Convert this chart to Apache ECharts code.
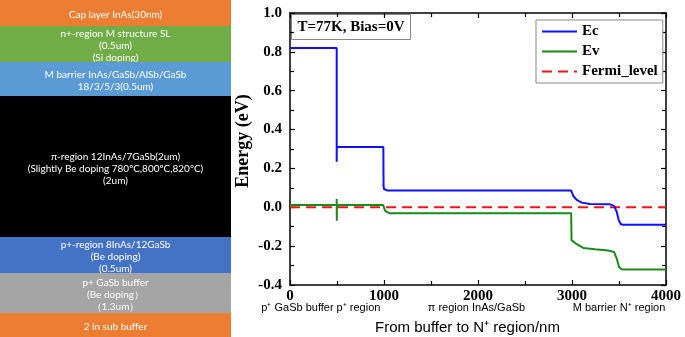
<!DOCTYPE html>
<html>
<head>
<meta charset="utf-8">
<script src="https://cdn.jsdelivr.net/npm/echarts@6/dist/echarts.min.js"></script>
<style>
  html, body { margin: 0; padding: 0; background: #fff; }
  #chart { width: 685px; height: 337px; }
</style>
</head>
<body>
<div id="chart"></div>
<script>
// Device layer stack, from the substrate (bottom) up to the cap (top).
const layerNames = ['2 in sub buffer', 'p+ GaSb buffer', 'p+-region', 'π-region', 'M barrier', 'n+-region', 'Cap layer'];
const layerHeights = [24, 40, 36, 141, 34, 36, 26];
const layerLabels = [
  '2 in sub buffer',
  'p+ GaSb buffer\n(Be doping）\n（1.3um）',
  'p+-region 8InAs/12GaSb\n(Be doping)\n(0.5um)',
  'π-region 12InAs/7GaSb(2um)\n(Slightly Be doping 780ºC,800ºC,820ºC)\n(2um)',
  'M barrier InAs/GaSb/AlSb/GaSb\n18/3/5/3(0.5um)',
  'n+-region M structure SL\n(0.5um)\n(Si doping)',
  'Cap layer InAs(30nm)'
];
const layerColors = ['#ED7D31', '#A5A5A5', '#4472C4', '#000000', '#5B9BD5', '#70AD47', '#ED7D31'];

// Band edges along the growth direction: [position (nm), energy (eV)].
const ecPoints = [
  [0, 0.82], [497, 0.82], [497, 0.235], [498, 0.31], [993, 0.31], [995, 0.11], [1000, 0.094],
  [1015, 0.087], [1040, 0.086], [2991, 0.086], [3000, 0.075], [3014, 0.058], [3050, 0.038],
  [3103, 0.024], [3191, 0.017], [3404, 0.015], [3447, 0.007], [3476, -0.023], [3497, -0.066],
  [3518, -0.086], [3540, -0.09], [4000, -0.09]
];
const evPoints = [
  [0, 0.012], [497, 0.012], [497, 0.043], [498, -0.069], [499, 0.012], [990, 0.012], [1000, 0.006],
  [1012, -0.018], [1030, -0.028], [1060, -0.031], [2991, -0.031], [2995, -0.169], [3050, -0.19],
  [3120, -0.209], [3245, -0.216], [3386, -0.222], [3447, -0.23], [3476, -0.264], [3500, -0.307],
  [3529, -0.319], [3560, -0.32], [4000, -0.32]
];
const fermiPoints = [[0, 0], [4000, 0]];

const seriesNames = ['Ec', 'Ev', 'Fermi_level'];
const regionLabels = ['p⁺ GaSb buffer', 'p⁺ region', 'π region InAs/GaSb', 'M barrier N⁺ region'];
const xAxisTitle = 'From buffer to N⁺ region/nm';
const yAxisTitle = 'Energy (eV)';
const conditionText = 'T=77K, Bias=0V';

const serif = '"Liberation Serif", "Times New Roman", serif';
const sans = '"Liberation Sans", Arial, sans-serif';

const chart = echarts.init(document.getElementById('chart'), null, { renderer: 'canvas' });

// One stacked bar per layer; later layers in the list sit higher in the stack.
// The M barrier bar is drawn above the n+ label so its last line is cut off.
const layerSeries = layerNames.map((name, i) => ({
  type: 'bar',
  name: name,
  xAxisIndex: 0,
  yAxisIndex: 0,
  stack: 'layers',
  barWidth: '100%',
  z: i === 4 ? 4 : 2,
  silent: true,
  itemStyle: { color: layerColors[i] },
  label: {
    show: true,
    position: 'inside',
    offset: [0, 2],
    formatter: layerLabels[i],
    color: '#fff',
    fontFamily: 'Lato, "Open Sans", sans-serif',
    fontSize: 10,
    lineHeight: 12,
    align: 'center'
  },
  data: [layerHeights[i]]
}));

const lineBase = { type: 'line', xAxisIndex: 1, yAxisIndex: 1, symbol: 'none', showSymbol: false, silent: true };

const axisLineStyle = { color: '#000', width: 1.5 };
const tickStyle = { color: '#000', width: 1.2 };

function frameAxis(extra) {
  return Object.assign({
    gridIndex: 1, type: 'value',
    axisLine: { show: true, onZero: false, lineStyle: axisLineStyle },
    axisTick: { show: true, inside: true, length: 5, lineStyle: tickStyle },
    minorTick: { show: true, splitNumber: 2, length: 4, lineStyle: tickStyle },
    splitLine: { show: false },
    axisLabel: { show: false }
  }, extra);
}

chart.setOption({
  animation: false,
  grid: [
    { left: 0, top: 0, width: 231, bottom: 0 },
    { left: 290, top: 13, right: 19, bottom: 52 }
  ],
  xAxis: [
    { gridIndex: 0, type: 'category', data: ['stack'], show: false },
    frameAxis({
      min: 0, max: 4000, interval: 1000, position: 'bottom',
      axisLabel: { show: true, color: '#000', fontFamily: serif, fontWeight: 'bold', fontSize: 15, margin: 4,
        formatter: v => String(v) }
    }),
    frameAxis({ min: 0, max: 4000, interval: 1000, position: 'top' })
  ],
  yAxis: [
    { gridIndex: 0, type: 'value', min: 0, max: 337, show: false },
    frameAxis({
      min: -0.4, max: 1.0, interval: 0.2, position: 'left',
      axisLabel: { show: true, color: '#000', fontFamily: serif, fontWeight: 'bold', fontSize: 15, margin: 8,
        formatter: v => v.toFixed(1) }
    }),
    frameAxis({ min: -0.4, max: 1.0, interval: 0.2, position: 'right' })
  ],
  legend: {
    data: seriesNames,
    orient: 'vertical',
    left: 536,
    top: 20,
    padding: [4, 5, 4, 5],
    itemGap: 5,
    itemWidth: 35,
    itemHeight: 14,
    borderColor: '#888',
    borderWidth: 1,
    backgroundColor: '#fff',
    itemStyle: { opacity: 0, borderWidth: 0 },
    textStyle: { color: '#000', fontFamily: serif, fontWeight: 'bold', fontSize: 15 }
  },
  series: [
    ...layerSeries,
    Object.assign({}, lineBase, {
      name: seriesNames[0], data: ecPoints, z: 5,
      lineStyle: { color: '#1010FF', width: 2 }, itemStyle: { color: '#1010FF' }
    }),
    Object.assign({}, lineBase, {
      name: seriesNames[1], data: evPoints, z: 5,
      lineStyle: { color: '#1A8A1A', width: 2 }, itemStyle: { color: '#1A8A1A' }
    }),
    Object.assign({}, lineBase, {
      name: seriesNames[2], data: fermiPoints, z: 4,
      lineStyle: { color: '#F01414', width: 2, type: [10, 6] }, itemStyle: { color: '#F01414' }
    })
  ],
  graphic: [
    {
      type: 'group', left: 291, top: 14, z: 10,
      children: [
        { type: 'rect', shape: { x: 0, y: 0, width: 119, height: 25 },
          style: { fill: '#fff', stroke: '#888', lineWidth: 1 } },
        { type: 'text', x: 59.5, y: 12.5,
          style: { text: conditionText, fill: '#000', font: 'bold 15px ' + serif, align: 'center', verticalAlign: 'middle' } }
      ]
    },
    { type: 'text', x: 297.5, y: 308, z: 10,
      style: { text: regionLabels[0], fill: '#000', font: '11px ' + sans, align: 'center', verticalAlign: 'middle' } },
    { type: 'text', x: 358.5, y: 308, z: 10,
      style: { text: regionLabels[1], fill: '#000', font: '11px ' + sans, align: 'center', verticalAlign: 'middle' } },
    { type: 'text', x: 476.5, y: 308, z: 10,
      style: { text: regionLabels[2], fill: '#000', font: '11px ' + sans, align: 'center', verticalAlign: 'middle' } },
    { type: 'text', x: 619, y: 308, z: 10,
      style: { text: regionLabels[3], fill: '#000', font: '11px ' + sans, align: 'center', verticalAlign: 'middle' } },
    { type: 'text', x: 467.5, y: 328, z: 10,
      style: { text: xAxisTitle, fill: '#000', font: '15px ' + sans, align: 'center', verticalAlign: 'middle' } },
    { type: 'text', x: 243, y: 141, rotation: Math.PI / 2, z: 10,
      style: { text: yAxisTitle, fill: '#000', font: 'bold 18px ' + serif, align: 'center', verticalAlign: 'middle' } }
  ]
});
</script>
</body>
</html>
